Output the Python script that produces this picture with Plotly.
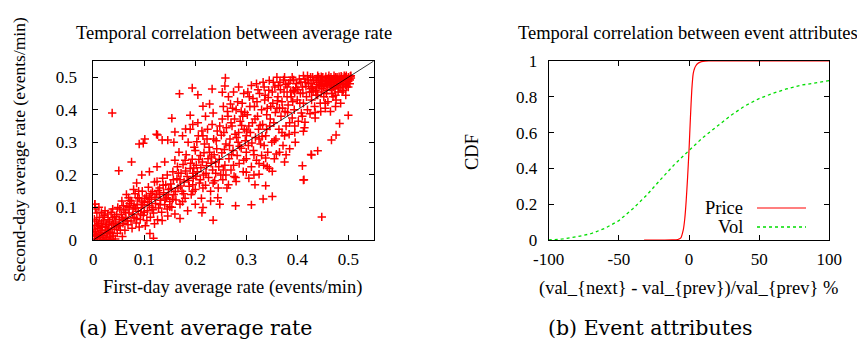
import plotly.graph_objects as go

# ---------------- data: panel (a) scatter ----------------
origin_cluster = [
    (0.002,0.004),(0.005,0.012),(0.008,0.003),(0.011,0.018),(0.004,0.026),(0.014,0.008),(0.017,0.022),
    (0.009,0.035),(0.021,0.013),(0.024,0.031),(0.003,0.045),(0.013,0.041),(0.019,0.002),(0.027,0.019),
    (0.030,0.037),(0.006,0.058),(0.016,0.052),(0.033,0.024),(0.036,0.046),(0.025,0.006),(0.039,0.012),
    (0.041,0.033),(0.044,0.055),(0.029,0.062),(0.012,0.069),(0.001,0.021),(0.007,0.083),(0.022,0.075),
    (0.047,0.021),(0.049,0.044),(0.034,0.002),(0.018,0.039),(0.010,0.050),(0.002,0.064),(0.026,0.048),
    (0.038,0.068),(0.031,0.009),(0.015,0.029),(0.043,0.003),(0.006,0.016),(0.020,0.058),(0.028,0.028),
    (0.004,0.095),(0.011,0.101),(0.003,0.110),(0.023,0.090),(0.046,0.078),(0.035,0.085),(0.051,0.062),
    (0.053,0.030),(0.057,0.011),(0.040,0.050),(0.032,0.055),(0.019,0.070),(0.008,0.044),(0.001,0.034),
    (0.045,0.040),(0.037,0.020),(0.014,0.015),(0.024,0.042),
    (0.052,0.095),(0.057,0.068),(0.063,0.085),(0.067,0.059),(0.071,0.112),(0.077,0.078),(0.083,0.098),
    (0.087,0.130),(0.093,0.080),(0.097,0.108),(0.042,0.072),(0.038,0.095),(0.048,0.100),(0.028,0.080),
    (0.016,0.085),(0.056,0.120),(0.079,0.155),(0.089,0.150),(0.069,0.130),(0.059,0.105),
]
low_band = [
    (0.052,0.045),(0.055,0.078),(0.058,0.051),(0.060,0.092),(0.062,0.030),(0.064,0.066),(0.066,0.104),
    (0.068,0.047),(0.070,0.083),(0.072,0.121),(0.074,0.058),(0.076,0.036),(0.078,0.095),(0.080,0.070),
    (0.082,0.142),(0.084,0.052),(0.086,0.110),(0.088,0.088),(0.090,0.127),(0.092,0.063),(0.094,0.099),
    (0.096,0.150),(0.098,0.076),(0.100,0.115),(0.102,0.044),(0.104,0.135),(0.106,0.090),(0.108,0.162),
    (0.110,0.106),(0.112,0.070),(0.114,0.125),(0.116,0.148),(0.118,0.083),(0.120,0.178),(0.122,0.112),
    (0.124,0.140),(0.126,0.062),(0.128,0.098),(0.130,0.160),(0.132,0.122),(0.134,0.085),(0.136,0.190),
    (0.138,0.145),(0.140,0.108),(0.142,0.170),(0.144,0.130),(0.146,0.074),(0.148,0.155),(0.150,0.118),
    (0.065,0.140),(0.085,0.175),(0.095,0.200),(0.110,0.210),(0.125,0.225),(0.140,0.240),(0.075,0.120),
    (0.090,0.040),(0.105,0.060),(0.120,0.050),(0.135,0.060),(0.145,0.095),(0.115,0.100),(0.100,0.085),
    (0.080,0.105),(0.070,0.100),(0.060,0.060),(0.125,0.180),(0.145,0.200),(0.130,0.140),(0.110,0.130),
    (0.095,0.120),(0.085,0.065),
    (0.101,0.128),(0.107,0.118),(0.113,0.142),(0.117,0.093),(0.121,0.131),(0.127,0.152),(0.131,0.109),
    (0.137,0.168),(0.141,0.126),(0.147,0.139),
]
mid_band = [
    (0.152,0.172),(0.154,0.101),(0.156,0.210),(0.158,0.140),(0.160,0.245),(0.162,0.123),(0.164,0.188),
    (0.166,0.160),(0.168,0.270),(0.170,0.110),(0.172,0.205),(0.174,0.150),(0.176,0.232),(0.178,0.178),
    (0.180,0.128),(0.182,0.262),(0.184,0.195),(0.186,0.300),(0.188,0.165),(0.190,0.220),(0.192,0.140),
    (0.194,0.248),(0.196,0.190),(0.198,0.285),(0.200,0.155),(0.202,0.230),(0.204,0.210),(0.206,0.320),
    (0.208,0.175),(0.210,0.260),(0.212,0.128),(0.214,0.240),(0.216,0.200),(0.218,0.295),(0.220,0.168),
    (0.222,0.228),(0.224,0.340),(0.226,0.192),(0.228,0.270),(0.230,0.150),(0.232,0.255),(0.234,0.215),
    (0.236,0.310),(0.238,0.182),(0.240,0.240),(0.242,0.280),(0.244,0.130),(0.246,0.225),(0.248,0.350),
    (0.250,0.200),(0.158,0.300),(0.175,0.320),(0.190,0.340),(0.205,0.360),(0.220,0.380),(0.235,0.390),
    (0.160,0.080),(0.185,0.090),(0.200,0.110),(0.215,0.100),(0.230,0.120),(0.245,0.160),(0.165,0.225),
    (0.180,0.245),(0.195,0.205),(0.210,0.185),(0.225,0.250),(0.240,0.205),(0.170,0.185),(0.200,0.275),
    (0.215,0.320),(0.195,0.170),
    (0.153,0.158),(0.157,0.185),(0.161,0.149),(0.167,0.205),(0.171,0.166),(0.177,0.142),(0.181,0.212),
    (0.187,0.183),(0.191,0.236),(0.197,0.221),(0.201,0.196),(0.207,0.247),(0.211,0.222),(0.217,0.268),
    (0.221,0.205),(0.227,0.285),(0.231,0.236),(0.237,0.262),(0.241,0.305),(0.247,0.248),(0.203,0.302),
    (0.213,0.335),(0.223,0.310),(0.233,0.355),(0.243,0.335),(0.155,0.125),(0.175,0.118),(0.195,0.150),
    (0.215,0.160),(0.235,0.175),
]
upper_band = [
    (0.252,0.268),(0.254,0.185),(0.256,0.330),(0.258,0.230),(0.260,0.295),(0.262,0.160),(0.264,0.380),
    (0.266,0.250),(0.268,0.310),(0.270,0.215),(0.272,0.350),(0.274,0.275),(0.276,0.195),(0.278,0.325),
    (0.280,0.400),(0.282,0.260),(0.284,0.300),(0.286,0.235),(0.288,0.365),(0.290,0.282),(0.292,0.420),
    (0.294,0.210),(0.296,0.340),(0.298,0.305),(0.300,0.250),(0.302,0.385),(0.304,0.290),(0.306,0.440),
    (0.308,0.330),(0.310,0.225),(0.312,0.360),(0.314,0.275),(0.316,0.410),(0.318,0.315),(0.320,0.245),
    (0.322,0.380),(0.324,0.340),(0.326,0.450),(0.328,0.295),(0.330,0.400),(0.332,0.355),(0.334,0.230),
    (0.336,0.430),(0.338,0.320),(0.340,0.385),(0.342,0.270),(0.344,0.460),(0.346,0.350),(0.348,0.410),
    (0.350,0.300),(0.255,0.410),(0.265,0.440),(0.275,0.455),(0.285,0.470),(0.295,0.450),(0.310,0.475),
    (0.320,0.480),(0.335,0.470),(0.345,0.490),(0.270,0.360),(0.290,0.395),(0.305,0.350),(0.325,0.310),
    (0.340,0.340),(0.260,0.200),(0.280,0.180),(0.300,0.270),(0.315,0.200),(0.330,0.260),(0.345,0.220),
    (0.285,0.330),(0.300,0.320),
    (0.251,0.322),(0.257,0.278),(0.261,0.345),(0.267,0.290),(0.271,0.262),(0.277,0.372),(0.281,0.315),
    (0.287,0.288),(0.291,0.352),(0.297,0.392),(0.253,0.372),(0.263,0.395),(0.273,0.405),(0.283,0.425),
    (0.293,0.380),(0.301,0.335),(0.307,0.410),(0.311,0.298),(0.317,0.372),(0.321,0.425),(0.327,0.352),
    (0.331,0.318),(0.337,0.445),(0.341,0.405),(0.347,0.372),(0.303,0.455),(0.313,0.435),(0.323,0.462),
    (0.333,0.485),(0.343,0.438),(0.255,0.215),(0.275,0.230),(0.295,0.245),(0.315,0.262),(0.335,0.290),
    (0.265,0.170),(0.305,0.190),(0.325,0.235),
]
high_band = [
    (0.352,0.420),(0.354,0.360),(0.356,0.470),(0.358,0.310),(0.360,0.405),(0.362,0.440),(0.364,0.340),
    (0.366,0.485),(0.368,0.380),(0.370,0.425),(0.372,0.290),(0.374,0.455),(0.376,0.395),(0.378,0.350),
    (0.380,0.470),(0.382,0.415),(0.384,0.325),(0.386,0.490),(0.388,0.440),(0.390,0.375),(0.392,0.460),
    (0.394,0.400),(0.396,0.300),(0.398,0.480),(0.400,0.430),(0.402,0.365),(0.404,0.495),(0.406,0.450),
    (0.408,0.390),(0.410,0.470),(0.412,0.420),(0.414,0.345),(0.416,0.485),(0.418,0.440),(0.420,0.400),
    (0.355,0.250),(0.365,0.270),(0.375,0.240),(0.385,0.280),(0.395,0.350),(0.360,0.500),(0.375,0.500),
    (0.390,0.500),(0.405,0.420),(0.370,0.330),(0.380,0.440),(0.395,0.455),(0.410,0.380),(0.365,0.405),
    (0.385,0.360),
    (0.351,0.455),(0.357,0.392),(0.361,0.428),(0.367,0.462),(0.371,0.405),(0.377,0.478),(0.381,0.392),
    (0.387,0.455),(0.391,0.425),(0.397,0.468),(0.353,0.485),(0.363,0.475),(0.373,0.492),(0.383,0.482),
    (0.393,0.492),(0.355,0.305),(0.375,0.320),(0.395,0.330),(0.415,0.362),
]
top_cluster = [
    (0.422,0.480),(0.424,0.455),(0.426,0.500),(0.428,0.430),(0.430,0.470),(0.432,0.490),(0.434,0.410),
    (0.436,0.460),(0.438,0.485),(0.440,0.445),(0.442,0.500),(0.444,0.475),(0.446,0.395),(0.448,0.465),
    (0.450,0.490),(0.452,0.440),(0.454,0.480),(0.456,0.502),(0.458,0.460),(0.460,0.425),(0.462,0.490),
    (0.464,0.470),(0.466,0.500),(0.468,0.450),(0.470,0.485),(0.472,0.495),(0.474,0.465),(0.476,0.430),
    (0.478,0.500),(0.480,0.480),(0.482,0.492),(0.484,0.470),(0.486,0.503),(0.488,0.455),(0.490,0.488),
    (0.492,0.498),(0.494,0.476),(0.496,0.505),(0.498,0.490),(0.500,0.500),(0.502,0.495),(0.504,0.503),
    (0.425,0.388),(0.435,0.375),(0.445,0.420),(0.455,0.405),(0.465,0.395),(0.475,0.410),(0.485,0.420),
    (0.495,0.445),(0.500,0.470),(0.503,0.480),(0.490,0.460),(0.480,0.455),(0.470,0.440),(0.460,0.475),
    (0.450,0.500),(0.440,0.505),(0.430,0.500),(0.420,0.505),(0.445,0.490),(0.455,0.495),(0.465,0.485),
    (0.475,0.500),(0.485,0.495),(0.495,0.500),(0.505,0.498),(0.498,0.482),(0.488,0.478),(0.478,0.488),
    (0.468,0.492),(0.458,0.488),(0.448,0.478),(0.438,0.470),(0.428,0.455),(0.500,0.488),(0.492,0.505),
    (0.482,0.502),(0.472,0.505),(0.462,0.505),(0.505,0.505),(0.503,0.492),(0.497,0.495),(0.487,0.490),
    (0.477,0.475),(0.467,0.462),(0.457,0.450),(0.447,0.455),(0.437,0.445),(0.427,0.465),(0.415,0.495),
    (0.412,0.505),
    (0.401,0.462),(0.407,0.485),(0.411,0.452),(0.417,0.472),(0.421,0.492),(0.427,0.482),(0.431,0.458),
    (0.437,0.495),(0.441,0.478),(0.447,0.502),(0.451,0.472),(0.457,0.482),(0.461,0.497),(0.467,0.478),
    (0.471,0.470),(0.477,0.495),(0.481,0.468),(0.487,0.500),(0.491,0.482),(0.497,0.472),(0.435,0.392),
    (0.455,0.420),(0.475,0.445),
]
outliers = [
    (0.037,0.390),(0.169,0.449),(0.194,0.467),(0.205,0.446),(0.259,0.498),(0.233,0.464),(0.154,0.374),
    (0.160,0.332),(0.126,0.323),(0.101,0.310),(0.090,0.295),(0.135,0.307),(0.146,0.307),(0.190,0.383),
    (0.181,0.341),(0.195,0.355),(0.215,0.411),(0.228,0.418),(0.258,0.473),(0.253,0.454),(0.269,0.418),
    (0.448,0.071),(0.410,0.228),(0.413,0.185),(0.427,0.263),(0.351,0.134),(0.333,0.126),(0.310,0.108),
    (0.279,0.105),(0.338,0.167),(0.317,0.170),(0.325,0.202),(0.300,0.208),(0.351,0.211),(0.341,0.225),
    (0.338,0.252),(0.378,0.262),(0.359,0.264),(0.440,0.274),(0.279,0.192),(0.500,0.383),(0.476,0.323),
    (0.467,0.307),(0.483,0.358),(0.412,0.334),(0.428,0.261),(0.412,0.184),(0.248,0.110),(0.235,0.061),
    (0.213,0.084),(0.170,0.066),(0.150,0.102),(0.111,0.020),(0.118,0.005),(0.124,0.325),(0.050,0.213),
    (0.075,0.240),(0.003,0.110),(0.098,0.297),
]
diagonal = [0, 0.55]
rate_ticks = [0, 0.1, 0.2, 0.3, 0.4, 0.5]

# ---------------- data: panel (b) CDFs ----------------
price_x = [-32, -20, -12, -8, -6, -4, -3, -2, -1, 0, 1, 2, 3, 4, 5, 6, 8, 10, 14, 30, 100]
price_y = [0, 0, 0.001, 0.003, 0.01, 0.06, 0.12, 0.22, 0.35, 0.5, 0.68, 0.84, 0.93, 0.96, 0.975,
           0.985, 0.994, 0.998, 1, 1, 1]
vol_x = [-100, -90, -80, -70, -60, -50, -40, -30, -20, -10, 0, 10, 20, 30, 40, 50, 60, 70, 80, 90, 100]
vol_y = [0, 0.006, 0.018, 0.035, 0.065, 0.108, 0.175, 0.252, 0.34, 0.425, 0.5, 0.573, 0.635, 0.697,
         0.75, 0.79, 0.82, 0.845, 0.865, 0.878, 0.89]
cdf_ticks_x = [-100, -50, 0, 50, 100]
cdf_ticklabels_x = ["-100", "-50", "0", "50", "100"]
cdf_ticks_y = [0, 0.2, 0.4, 0.6, 0.8, 1]

# ---------------- figure ----------------
# the page body has an 8px margin, so the figure is drawn 8px in from the top-left corner
OFF = 8
W, H = 865 - OFF, 343 - OFF
FONT = "Liberation Serif"
CAPTION_FONT = "DejaVu Serif"

def px(x):
    return (x - OFF) / W

def py(y):
    return 1 - (y - OFF) / H

all_pts = origin_cluster + low_band + mid_band + upper_band + high_band + top_cluster + outliers
day1 = [p[0] for p in all_pts]
day2 = [p[1] for p in all_pts]

fig = go.Figure()
fig.add_trace(go.Scatter(
    x=day1, y=day2, mode="markers", xaxis="x", yaxis="y", showlegend=False,
    marker=dict(symbol="cross-thin", size=6, color="#ff0000", line=dict(color="#ff0000", width=1.5)),
))
fig.add_trace(go.Scatter(
    x=diagonal, y=diagonal, mode="lines", xaxis="x", yaxis="y", showlegend=False,
    line=dict(color="black", width=0.8),
))
fig.add_trace(go.Scatter(
    x=price_x, y=price_y, mode="lines", xaxis="x2", yaxis="y2", showlegend=False,
    line=dict(color="#ff0000", width=1.2, shape="spline", smoothing=0.6),
))
fig.add_trace(go.Scatter(
    x=vol_x, y=vol_y, mode="lines", xaxis="x2", yaxis="y2", showlegend=False,
    line=dict(color="#00dd00", width=1.3, dash="dot"),
))

axis_common = dict(
    showline=True, linecolor="black", linewidth=1, mirror="allticks",
    ticks="inside", ticklen=5, tickcolor="black", tickwidth=1,
    showgrid=False, zeroline=False, automargin=False,
    tickfont=dict(family=FONT, size=17, color="black"),
)

fig.update_layout(
    width=W, height=H,
    margin=dict(l=0, r=0, t=0, b=0),
    paper_bgcolor="white", plot_bgcolor="white",
    xaxis=dict(domain=[px(93.3), px(373.8)], range=[0, 0.55], tickvals=rate_ticks,
               anchor="y", ticklabelstandoff=4, **axis_common),
    yaxis=dict(domain=[py(240), py(61)], range=[0, 0.55], tickvals=rate_ticks,
               anchor="x", ticklabelstandoff=12, **axis_common),
    xaxis2=dict(domain=[px(548.7), px(829.3)], range=[-100, 100], tickvals=cdf_ticks_x,
                ticktext=cdf_ticklabels_x, anchor="y2", ticklabelstandoff=4, **axis_common),
    yaxis2=dict(domain=[py(240), py(61)], range=[0, 1], tickvals=cdf_ticks_y,
                anchor="x2", ticklabelstandoff=7, **axis_common),
)

def text(x, y, s, size=15, angle=0, xanchor="center", family=FONT):
    fig.add_annotation(x=px(x), y=py(y), xref="paper", yref="paper", text=s, showarrow=False,
                       xanchor=xanchor, yanchor="middle", textangle=angle,
                       font=dict(family=family, size=size, color="black"))

# titles
text(234, 33, "Temporal correlation between average rate", size=18.5)
text(688, 33, "Temporal correlation between event attributes", size=18.5)
# axis titles
text(232, 287, "First-day average rate (events/min)", size=18.5)
text(19, 150, "Second-day average rate (events/min)", size=17.5, angle=-90)
text(688, 288, "(val_{next} - val_{prev})/val_{prev} %", size=18.5)
text(472, 152, "CDF", size=18.5, angle=-90)
# captions
text(196, 328, "(a) Event average rate", size=20.5, family=CAPTION_FONT)
text(650, 328, "(b) Event attributes", size=20.5, family=CAPTION_FONT)

# legend (gnuplot style: label left, sample right)
text(745, 208, "Price", size=18.5, xanchor="right")
text(745, 227, "Vol", size=18.5, xanchor="right")
fig.add_shape(type="line", xref="paper", yref="paper", x0=px(757), x1=px(806), y0=py(208), y1=py(208),
              line=dict(color="#ff0000", width=1.2))
fig.add_shape(type="line", xref="paper", yref="paper", x0=px(757), x1=px(806), y0=py(227), y1=py(227),
              line=dict(color="#00dd00", width=1.3, dash="dot"))

fig.write_html("out.html")
